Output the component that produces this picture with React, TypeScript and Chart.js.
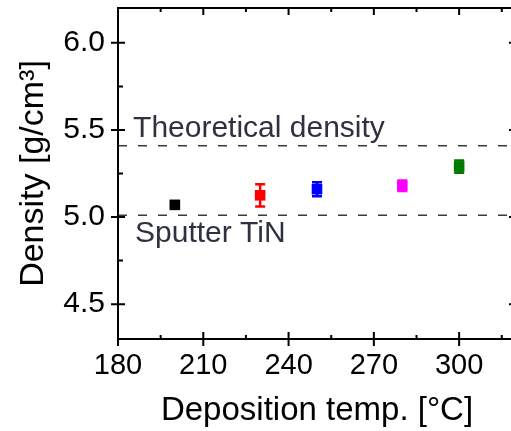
import { useEffect, useRef } from 'react';
import { Chart, registerables } from 'chart.js';

Chart.register(...registerables);

const temps = [200, 230, 250, 280, 300];
const densities = [5.07, 5.125, 5.16, 5.18, 5.29];
const errors = [0.01, 0.064, 0.04, 0.03, 0.035];
const colors = ['#000000', '#ff0000', '#0000ff', '#ff00ff', '#007a00'];
const theoreticalDensity = 5.41;
const sputterDensity = 5.01;
const theoreticalLabel = 'Theoretical density';
const sputterLabel = 'Sputter TiN';
const xTicks = [180, 210, 240, 270, 300];
const xMinorTicks = [195, 225, 255, 285, 315];
const yTicks = [4.5, 5.0, 5.5, 6.0];
const yMinorTicks = [4.75, 5.25, 5.75];
const xRange = [180, 320];
const yRange = [4.3, 6.2];

const FONT = '"Liberation Sans", Arial, sans-serif';

const errorBarPlugin = {
  id: 'errorBars',
  beforeDatasetsDraw(chart: any) {
    const ctx = chart.ctx;
    const xs = chart.scales.x;
    const ys = chart.scales.y;
    ctx.save();
    temps.forEach((t, i) => {
      const x = xs.getPixelForValue(t);
      const yTop = ys.getPixelForValue(densities[i] + errors[i]);
      const yBot = ys.getPixelForValue(densities[i] - errors[i]);
      ctx.strokeStyle = colors[i];
      ctx.lineWidth = 2.5;
      ctx.beginPath();
      ctx.moveTo(x, yTop);
      ctx.lineTo(x, yBot);
      ctx.moveTo(x - 5, yTop);
      ctx.lineTo(x + 5, yTop);
      ctx.moveTo(x - 5, yBot);
      ctx.lineTo(x + 5, yBot);
      ctx.stroke();
    });
    ctx.restore();
  },
};

const framePlugin = {
  id: 'frame',
  afterDraw(chart: any) {
    const ctx = chart.ctx;
    const { left, right, top, bottom } = chart.chartArea;
    const xs = chart.scales.x;
    const ys = chart.scales.y;
    ctx.save();
    ctx.strokeStyle = '#000';
    ctx.lineWidth = 2;
    ctx.strokeRect(left, top, right - left, bottom - top);
    ctx.beginPath();
    xTicks.forEach((v) => {
      const x = xs.getPixelForValue(v);
      ctx.moveTo(x, bottom + 7);
      ctx.lineTo(x, bottom - 7);
      ctx.moveTo(x, top);
      ctx.lineTo(x, top + 7);
    });
    xMinorTicks.forEach((v) => {
      const x = xs.getPixelForValue(v);
      ctx.moveTo(x, bottom);
      ctx.lineTo(x, bottom - 4);
      ctx.moveTo(x, top);
      ctx.lineTo(x, top + 4);
    });
    yTicks.forEach((v) => {
      const y = ys.getPixelForValue(v);
      ctx.moveTo(left - 7, y);
      ctx.lineTo(left + 7, y);
      ctx.moveTo(right, y);
      ctx.lineTo(right - 7, y);
    });
    yMinorTicks.forEach((v) => {
      const y = ys.getPixelForValue(v);
      ctx.moveTo(left, y);
      ctx.lineTo(left + 5, y);
      ctx.moveTo(right, y);
      ctx.lineTo(right - 5, y);
    });
    ctx.stroke();
    ctx.restore();
  },
};

const labelPlugin = {
  id: 'refLabels',
  afterDatasetsDraw(chart: any) {
    const ctx = chart.ctx;
    const xs = chart.scales.x;
    const ys = chart.scales.y;
    ctx.save();
    ctx.font = `30px ${FONT}`;
    ctx.fillStyle = '#2e3140';
    ctx.textAlign = 'left';
    ctx.textBaseline = 'alphabetic';
    ctx.fillText(theoreticalLabel, xs.getPixelForValue(185.3), ys.getPixelForValue(theoreticalDensity) - 9);
    ctx.fillText(sputterLabel, xs.getPixelForValue(186), ys.getPixelForValue(sputterDensity) + 27);
    ctx.restore();
  },
};

const zeroPad = (scale: any) => {
  scale.paddingTop = 0;
  scale.paddingBottom = 0;
  scale.paddingLeft = 0;
  scale.paddingRight = 0;
};

export default function App() {
  const canvasRef = useRef<HTMLCanvasElement | null>(null);

  useEffect(() => {
    const canvas = canvasRef.current;
    if (!canvas) return;
    const pointDatasets = temps.map((t, i) => ({
      type: 'scatter' as const,
      label: `${t} °C`,
      data: [{ x: t, y: densities[i] }],
      backgroundColor: colors[i],
      borderColor: colors[i],
      pointStyle: 'rect',
      pointRadius: 7.5,
      pointHoverRadius: 7.5,
      borderWidth: 0,
    }));
    const refLine = (label: string, val: number) => ({
      type: 'line' as const,
      label,
      data: [
        { x: xRange[0], y: val },
        { x: xRange[1], y: val },
      ],
      borderColor: '#3a3a3a',
      borderWidth: 1.5,
      borderDash: [9, 11],
      pointRadius: 0,
      fill: false,
    });
    const chart = new Chart(canvas, {
      type: 'scatter',
      data: {
        datasets: [
          refLine(theoreticalLabel, theoreticalDensity),
          refLine(sputterLabel, sputterDensity),
          ...pointDatasets,
        ] as any,
      },
      options: {
        responsive: false,
        animation: false,
        layout: { padding: { top: 8, right: 14, left: 0, bottom: 0 } },
        plugins: {
          legend: { display: false },
          tooltip: { enabled: false },
        },
        scales: {
          x: {
            type: 'linear',
            min: xRange[0],
            max: xRange[1],
            afterBuildTicks: (scale: any) => {
              scale.ticks = xTicks.map((v) => ({ value: v }));
            },
            afterFit: (scale: any) => {
              scale.height = 92;
              zeroPad(scale);
            },
            grid: { display: false, drawTicks: false },
            border: { display: false },
            ticks: {
              font: { family: FONT, size: 29 },
              color: '#000',
              padding: 10,
              maxRotation: 0,
              autoSkip: false,
            },
            title: {
              display: true,
              text: 'Deposition temp. [°C]',
              font: { family: FONT, size: 33 },
              color: '#000',
              padding: { top: 0, bottom: 0 },
            },
          },
          y: {
            type: 'linear',
            min: yRange[0],
            max: yRange[1],
            afterBuildTicks: (scale: any) => {
              scale.ticks = yTicks.map((v) => ({ value: v }));
            },
            afterFit: (scale: any) => {
              scale.width = 118;
              zeroPad(scale);
            },
            grid: { display: false, drawTicks: false },
            border: { display: false },
            ticks: {
              font: { family: FONT, size: 30 },
              color: '#000',
              padding: 13,
              callback: (v: any) => Number(v).toFixed(1),
            },
            title: {
              display: true,
              text: 'Density [g/cm³]',
              font: { family: FONT, size: 34 },
              color: '#000',
              padding: { top: 13, bottom: 0 },
            },
          },
        },
      },
      plugins: [errorBarPlugin, labelPlugin, framePlugin],
    });
    return () => chart.destroy();
  }, []);

  return (
    <div
      style={{
        position: 'absolute',
        left: 0,
        top: 0,
        width: 511,
        height: 431,
        overflow: 'hidden',
        background: '#fff',
      }}
    >
      <canvas ref={canvasRef} width={530} height={431} style={{ display: 'block' }} />
    </div>
  );
}
